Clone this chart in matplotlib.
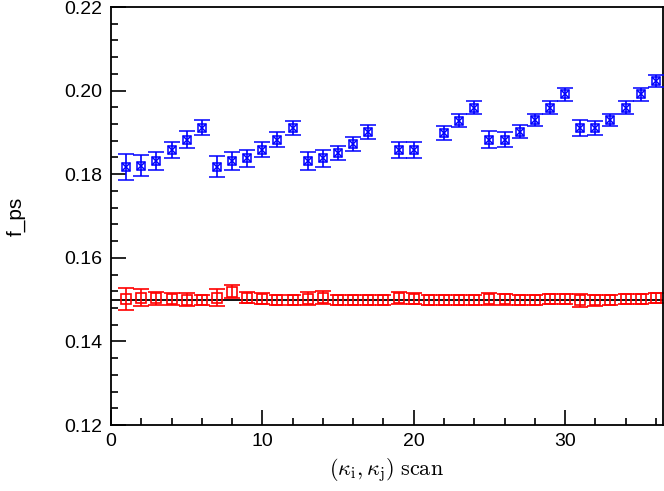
import numpy as np
import matplotlib
matplotlib.use("Agg")
import matplotlib.pyplot as plt
from matplotlib.ticker import MultipleLocator

# data
scan_blue = [1, 2, 3, 4, 5, 6, 7, 8, 9, 10, 11, 12, 13, 14, 15, 16, 17,
             19, 20, 22, 23, 24, 25, 26, 27, 28, 29, 30, 31, 32, 33, 34, 35, 36]
fps_blue = [0.1817, 0.1820, 0.1832, 0.1858, 0.1883, 0.1911,
            0.1818, 0.1832, 0.1838, 0.1858, 0.1883, 0.1911,
            0.1832, 0.1838, 0.1850, 0.1872, 0.1901,
            0.1858, 0.1858,
            0.1899, 0.1928, 0.1959,
            0.1883, 0.1883, 0.1902, 0.1930, 0.1959, 0.1991,
            0.1911, 0.1911, 0.1930, 0.1959, 0.1991, 0.2023]
err_blue = [0.0031, 0.0025, 0.0021, 0.0020, 0.0020, 0.0018,
            0.0025, 0.0022, 0.0020, 0.0018, 0.0018, 0.0017,
            0.0022, 0.0020, 0.0017, 0.0017, 0.0016,
            0.0020, 0.0020,
            0.0017, 0.0016, 0.0015,
            0.0020, 0.0017, 0.0016, 0.0015, 0.0015, 0.0015,
            0.0019, 0.0017, 0.0015, 0.0015, 0.0015, 0.0015]

scan_red = list(range(1, 37))
fps_red = [0.1501, 0.1505, 0.1503, 0.1502, 0.1500, 0.1498,
           0.1505, 0.1519, 0.1505, 0.1502, 0.1500, 0.1498,
           0.1502, 0.1505, 0.1500, 0.1500, 0.1499, 0.1498,
           0.1504, 0.1502, 0.1500, 0.1498, 0.1500, 0.1500,
           0.1502, 0.1501, 0.1500, 0.1500, 0.1501, 0.1501,
           0.1498, 0.1498, 0.1499, 0.1501, 0.1502, 0.1503]
err_red = [0.0026, 0.0020, 0.0015, 0.0015, 0.0015, 0.0012,
           0.0020, 0.0016, 0.0013, 0.0013, 0.0012, 0.0012,
           0.0016, 0.0016, 0.0012, 0.0012, 0.0012, 0.0012,
           0.0014, 0.0013, 0.0012, 0.0012, 0.0012, 0.0012,
           0.0015, 0.0013, 0.0012, 0.0012, 0.0012, 0.0012,
           0.0015, 0.0013, 0.0012, 0.0012, 0.0012, 0.0012]
ref_level = 0.15

plt.rcParams['mathtext.fontset'] = 'cm'
plt.rcParams['font.family'] = ['Liberation Sans', 'DejaVu Sans']
fig = plt.figure(figsize=(6.64, 4.91), dpi=100)
ax = fig.add_axes([0.1672, 0.1344, 0.998 - 0.1672, 0.9857 - 0.1344])

ax.axhline(ref_level, color='black', lw=1.3, zorder=1)

blue = '#0000ff'
red = '#ff0000'
ax.errorbar(scan_red, fps_red, yerr=err_red, fmt='s', mfc='none', mec=red,
            ms=7.5, mew=1.2, ecolor=red, elinewidth=1.2, capsize=5.5,
            capthick=1.2, zorder=2)
ax.errorbar(scan_blue, fps_blue, yerr=err_blue, fmt='s', mfc='none', mec=blue,
            ms=6, mew=1.1, ecolor=blue, elinewidth=1.2, capsize=5.5,
            capthick=1.2, zorder=3)
ax.plot(scan_blue, fps_blue, 'x', color=blue, ms=6, mew=1.1, zorder=4)

ax.set_xlim(0, 36.45)
ax.set_ylim(0.12, 0.22)
ax.xaxis.set_major_locator(MultipleLocator(10))
ax.xaxis.set_minor_locator(MultipleLocator(2))
ax.yaxis.set_major_locator(MultipleLocator(0.02))
ax.yaxis.set_minor_locator(MultipleLocator(0.004))
ax.yaxis.set_major_formatter(matplotlib.ticker.FormatStrFormatter('%.2f'))
ax.tick_params(which='both', direction='in', top=False, right=False,
               labelsize=14, width=1.2, pad=6)
ax.tick_params(which='major', length=11)
ax.tick_params(which='minor', length=5)
for s in ax.spines.values():
    s.set_linewidth(1.3)

ax.set_xlabel(r'$(\kappa_{\rm i},\kappa_{\rm j})\ {\rm scan}$',
              fontsize=16, labelpad=4)
ax.set_ylabel('f_ps', fontsize=15, labelpad=28)

fig.savefig('out.png', dpi=100)
